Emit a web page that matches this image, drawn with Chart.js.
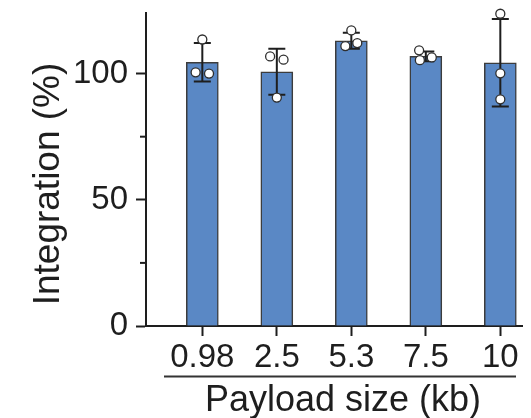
<!DOCTYPE html>
<html>
<head>
<meta charset="utf-8">
<script src="https://cdn.jsdelivr.net/npm/chart.js@4.4.0/dist/chart.umd.min.js"></script>
<style>
  body { margin: 0; background: #fff; }
  canvas { display: block; }
</style>
</head>
<body>
<canvas id="myChart" width="531" height="418"></canvas>
<script>
// payload sizes (kb) on the x axis
var sizes = ["0.98", "2.5", "5.3", "7.5", "10"];
// bar heights = mean integration (%)
var means = [104.5, 100.7, 113.0, 106.8, 104.3];
// standard deviation for the error bars
var sds = [7.6, 9.1, 3.2, 1.9, 17.3];
// single replicates, 3 per payload size
var reps = [
  [113.5, 100.5, 100.0],
  [106.8, 105.5, 90.5],
  [117.1, 110.9, 112.1],
  [109.2, 105.3, 106.4],
  [123.7, 100.1, 89.8]
];
var yTicks = [0, 25, 50, 75, 100];
var yLabels = [0, 50, 100];

// small sideways shift so the dots dont sit on each other
var jitter = [
  [0, -0.09, 0.09],
  [-0.09, 0.09, 0],
  [0, -0.08, 0.08],
  [-0.09, -0.08, 0.08],
  [0, 0, 0]
];

var ink = "#1e1e1e";
var fontFam = "'Liberation Sans', Arial, sans-serif";

var barData = means.map(function (m, i) { return { x: i, y: m }; });
var dotData = [];
reps.forEach(function (r, i) {
  r.forEach(function (v, j) { dotData.push({ x: i + jitter[i][j], y: v }); });
});

var extras = {
  id: "extras",
  afterDatasetDraw: function (chart, args) {
    if (args.meta.type !== "bar") return;
    var ctx = chart.ctx, x = chart.scales.x, y = chart.scales.y;
    ctx.save();
    ctx.strokeStyle = ink;
    ctx.lineWidth = 2;
    for (var i = 0; i < means.length; i++) {
      var px = x.getPixelForValue(i);
      var top = y.getPixelForValue(means[i] + sds[i]);
      var bot = y.getPixelForValue(means[i] - sds[i]);
      ctx.beginPath();
      ctx.moveTo(px, top); ctx.lineTo(px, bot);
      ctx.moveTo(px - 8.5, top); ctx.lineTo(px + 8.5, top);
      ctx.moveTo(px - 8.5, bot); ctx.lineTo(px + 8.5, bot);
      ctx.stroke();
    }
    ctx.restore();
  },
  afterDraw: function (chart) {
    var ctx = chart.ctx, y = chart.scales.y, area = chart.chartArea;
    ctx.save();
    ctx.strokeStyle = ink;
    ctx.lineWidth = 2;
    // minor ticks (shorter)
    yTicks.forEach(function (v) {
      if (yLabels.indexOf(v) >= 0) return;
      var py = y.getPixelForValue(v);
      ctx.beginPath();
      ctx.moveTo(area.left - 6, py);
      ctx.lineTo(area.left, py);
      ctx.stroke();
    });
    // line between tick labels and the x title
    ctx.strokeStyle = "#333";
    ctx.beginPath();
    ctx.moveTo(164, 376.5);
    ctx.lineTo(516, 376.5);
    ctx.stroke();

    ctx.fillStyle = ink;
    ctx.textAlign = "center";
    ctx.textBaseline = "alphabetic";
    ctx.font = "36px " + fontFam;
    ctx.fillText("Payload size (kb)", 343, 411);

    ctx.translate(59, 184);
    ctx.rotate(-Math.PI / 2);
    ctx.font = "37px " + fontFam;
    ctx.fillText("Integration (%)", 0, 0);
    ctx.restore();
  }
};

new Chart(document.getElementById("myChart"), {
  type: "bar",
  data: {
    datasets: [
      {
        type: "scatter",
        data: dotData,
        order: 0,
        clip: false,
        pointRadius: 4.5,
        pointBackgroundColor: "#ffffff",
        pointBorderColor: "#2e2e2e",
        pointBorderWidth: 1.3
      },
      {
        type: "bar",
        data: barData,
        order: 1,
        barThickness: 32,
        backgroundColor: "#5a88c5",
        borderColor: "#3c3c3c",
        borderWidth: 1.5
      }
    ]
  },
  options: {
    responsive: false,
    animation: false,
    layout: { padding: { top: 13, right: 9, left: 0, bottom: 0 } },
    plugins: { legend: { display: false }, tooltip: { enabled: false } },
    scales: {
      x: {
        type: "linear",
        offset: false,
        min: -0.756,
        max: 4.291,
        afterBuildTicks: function (axis) {
          axis.ticks = sizes.map(function (s, i) { return { value: i }; });
        },
        afterFit: function (axis) {
          axis.height = 92;
          axis.paddingLeft = 0;
          axis.paddingRight = 0;
        },
        ticks: {
          autoSkip: false,
          maxRotation: 0,
          padding: 2,
          color: ink,
          font: { family: fontFam, size: 33 },
          callback: function (v) { return sizes[v]; }
        },
        grid: { drawOnChartArea: false, offset: false, tickLength: 10, tickWidth: 2, tickColor: ink },
        border: { color: ink, width: 2 }
      },
      y: {
        min: 0,
        max: 124,
        afterBuildTicks: function (axis) {
          axis.ticks = yLabels.map(function (v) { return { value: v }; });
        },
        afterFit: function (axis) {
          axis.width = 146;
          axis.paddingTop = 0;
          axis.paddingBottom = 0;
        },
        ticks: {
          padding: 8,
          color: ink,
          font: { family: fontFam, size: 33 }
        },
        grid: { drawOnChartArea: false, tickLength: 10, tickWidth: 2, tickColor: ink },
        border: { color: ink, width: 2 }
      }
    }
  },
  plugins: [extras]
});
</script>
</body>
</html>
